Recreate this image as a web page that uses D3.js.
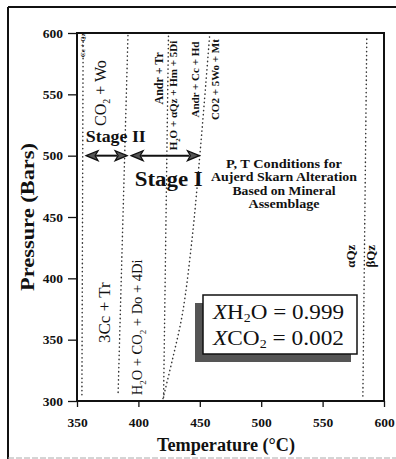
<!DOCTYPE html>
<html><head><meta charset="utf-8">
<script src="https://cdn.jsdelivr.net/npm/d3@7"></script>
<style>
html,body{margin:0;padding:0;background:#fff;}
svg{display:block;font-family:"Liberation Serif","Times New Roman",serif;}
</style></head>
<body>
<svg id="chart" width="396" height="459"></svg>
<script>
// ---- data ----
const tempTicks = [350, 400, 450, 500, 550, 600];
const pressTicks = [300, 350, 400, 450, 500, 550, 600];
// reaction boundaries [T (°C), P (bars)]
const woLine = [[354, 305], [355, 598]];
const trLine = [[383.5, 307], [391.5, 598]];
const diLine = [[420.5, 303], [424.5, 598]];
const hdCurve = [[420, 302], [428, 335], [436, 372], [444, 435], [450, 500], [455, 560], [458, 598]];
const qzLine = [[582.8, 304], [586, 598]];
const boundaries = [woLine, trLine, diLine, hdCurve, qzLine];
// stage ranges [T from, T to] at P
const stageP = 500;
const stageII = [357.4, 390.8];
const stageI = [394.1, 449.7];
const xH2O = "0.999";
const xCO2 = "0.002";

const svg = d3.select("#chart");
const x = d3.scaleLinear().domain([350, 600]).range([77, 384]);
const y = d3.scaleLinear().domain([300, 600]).range([401, 33]);

// outer frame
svg.append("line").attr("x1", 8).attr("y1", 7).attr("x2", 396).attr("y2", 7).attr("stroke", "#111").attr("stroke-width", 2);
svg.append("line").attr("x1", 8).attr("y1", 7).attr("x2", 8).attr("y2", 459).attr("stroke", "#111").attr("stroke-width", 2);
svg.append("line").attr("x1", 8).attr("y1", 458).attr("x2", 396).attr("y2", 458).attr("stroke", "#aaa").attr("stroke-width", 1).attr("stroke-dasharray", "6 2");

// axes
const gy = svg.append("g").attr("transform", `translate(${x(350)},0)`)
  .call(d3.axisLeft(y).tickValues(pressTicks).tickSize(9).tickPadding(5).tickFormat(d3.format("d")));
const gx = svg.append("g").attr("transform", `translate(0,${y(300)})`)
  .call(d3.axisBottom(x).tickValues(tempTicks).tickSize(6).tickPadding(10).tickFormat(d3.format("d")));
[gy, gx].forEach(g => {
  g.select(".domain").remove();
  g.selectAll(".tick line").attr("stroke", "#111").attr("stroke-width", 1.3);
  g.selectAll(".tick text").attr("fill", "#111").style("font-family", "Liberation Serif, serif")
    .style("font-size", "13.5px").style("font-weight", "bold");
});

// plot frame
svg.append("rect").attr("x", x(350)).attr("y", y(600))
  .attr("width", x(600) - x(350)).attr("height", y(300) - y(600))
  .attr("fill", "none").attr("stroke", "#111").attr("stroke-width", 2);

// dotted boundaries
const line = d3.line().x(d => x(d[0])).y(d => y(d[1])).curve(d3.curveCatmullRom);
svg.selectAll("path.bd").data(boundaries).join("path").attr("class", "bd")
  .attr("d", line).attr("fill", "none").attr("stroke", "#333")
  .attr("stroke-width", 1.5).attr("stroke-linecap", "round").attr("stroke-dasharray", "0.3 3.8");

// axis titles
svg.append("text").attr("transform", "translate(34,217) rotate(-90)").attr("text-anchor", "middle")
  .style("font-size", "18px").style("font-weight", "bold").attr("fill", "#111")
  .attr("textLength", 148).attr("lengthAdjust", "spacingAndGlyphs").text("Pressure (Bars)");
svg.append("text").attr("x", 226).attr("y", 451).attr("text-anchor", "middle")
  .style("font-size", "18px").style("font-weight", "bold").attr("fill", "#111")
  .attr("textLength", 138).attr("lengthAdjust", "spacingAndGlyphs").text("Temperature (°C)");

// rotated reaction labels
function vlabel(T, P, parts, size, weight) {
  const t = svg.append("text")
    .attr("transform", `translate(${x(T) + size * 0.33},${y(P)}) rotate(-90)`)
    .attr("text-anchor", "middle").style("font-size", size + "px")
    .style("font-weight", weight).attr("fill", "#111");
  let sub = false;
  parts.forEach(p => {
    const s = t.append("tspan").text(p[0]);
    if (p[1] === "sub") { s.style("font-size", (size * 0.62) + "px").attr("dy", size * 0.25); sub = true; }
    else if (sub) { s.attr("dy", -size * 0.25); sub = false; }
  });
  return t;
}
vlabel(354.3, 590, [["Cc + Qz"]], 7, "bold");
vlabel(369.5, 551, [["CO"], ["2", "sub"], [" + Wo"]], 16, "normal");
vlabel(417, 563, [["Andr + Tr"]], 12, "bold");
vlabel(428.5, 549, [["H"], ["2", "sub"], ["O + αQz + Hm + 5Di"]], 11, "bold");
vlabel(446.5, 562, [["Andr + Cc + Hd"]], 11, "bold");
vlabel(463, 562, [["CO2 + 5Wo + Mt"]], 11, "bold");
vlabel(372, 372, [["3Cc + Tr"]], 17, "normal");
vlabel(399, 360, [["H"], ["2", "sub"], ["O + CO"], ["2", "sub"], [" + Do + 4Di"]], 14.5, "normal");
vlabel(572.5, 418, [["αQz"]], 13, "bold");
vlabel(589, 418, [["βQz"]], 13, "bold");

// stage arrows
function arrow(r) {
  const x1 = x(r[0]), x2 = x(r[1]), yy = y(stageP), L = 12, W = 5;
  svg.append("line").attr("x1", x1 + L - 2).attr("x2", x2 - L + 2).attr("y1", yy).attr("y2", yy)
    .attr("stroke", "#111").attr("stroke-width", 2);
  svg.append("path").attr("d", `M${x1},${yy}L${x1 + L},${yy - W}L${x1 + L - 3},${yy}L${x1 + L},${yy + W}Z`)
    .attr("fill", "#555").attr("stroke", "#111").attr("stroke-width", 1.2);
  svg.append("path").attr("d", `M${x2},${yy}L${x2 - L},${yy - W}L${x2 - L + 3},${yy}L${x2 - L},${yy + W}Z`)
    .attr("fill", "#555").attr("stroke", "#111").attr("stroke-width", 1.2);
}
arrow(stageII);
arrow(stageI);
svg.append("text").attr("x", x(357.2)).attr("y", 142).style("font-size", "17px").style("font-weight", "bold")
  .attr("fill", "#111").attr("textLength", 60).attr("lengthAdjust", "spacingAndGlyphs").text("Stage II");
svg.append("text").attr("x", x(397)).attr("y", 186).style("font-size", "20px").style("font-weight", "bold")
  .attr("fill", "#111").attr("textLength", 68).attr("lengthAdjust", "spacingAndGlyphs").text("Stage I");

// description
const desc = [["P, T Conditions for", 116], ["Aujerd Skarn Alteration", 146], ["Based on Mineral", 103], ["Assemblage", 71]];
desc.forEach((d, i) => {
  svg.append("text").attr("x", 284).attr("y", 168 + i * 13.4).attr("text-anchor", "middle")
    .style("font-size", "12px").style("font-weight", "bold").attr("fill", "#111")
    .attr("textLength", d[1]).attr("lengthAdjust", "spacingAndGlyphs").text(d[0]);
});

// composition box
svg.append("rect").attr("x", 195).attr("y", 303).attr("width", 156).attr("height", 59).attr("fill", "#555");
svg.append("rect").attr("x", 203).attr("y", 295).attr("width", 154).attr("height", 59)
  .attr("fill", "#fff").attr("stroke", "#111").attr("stroke-width", 1.5);
function comp(yb, species, val) {
  const t = svg.append("text").attr("x", 213).attr("y", yb).style("font-size", "20px").attr("fill", "#111")
    .attr("textLength", 131).attr("lengthAdjust", "spacingAndGlyphs");
  t.append("tspan").style("font-style", "italic").text("X");
  t.append("tspan").text(species[0]);
  t.append("tspan").style("font-size", "12px").attr("dy", 3).text("2");
  t.append("tspan").attr("dy", -3).text(species[1] + " = " + val);
}
comp(319, ["H", "O"], xH2O);
comp(345, ["CO", ""], xCO2);
</script>
</body></html>
